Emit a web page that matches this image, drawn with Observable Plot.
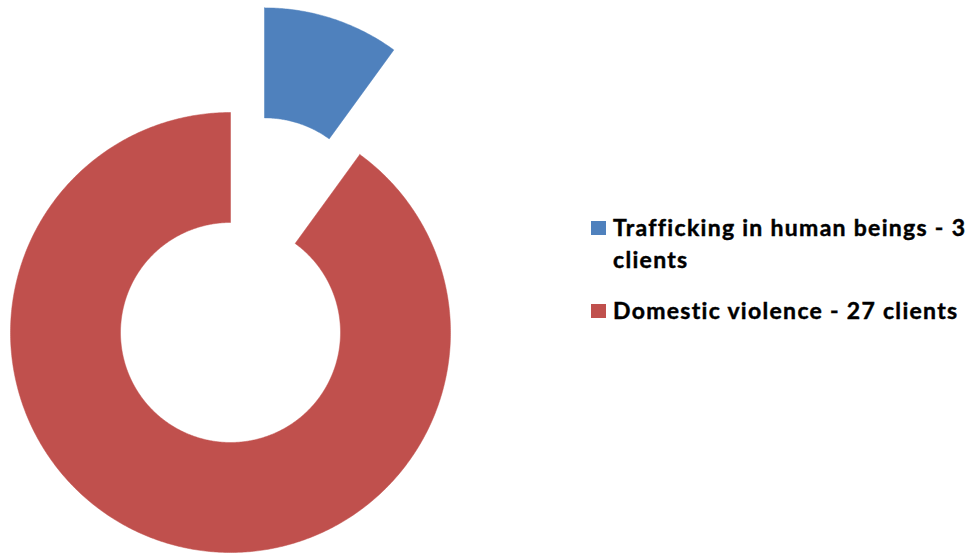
<!DOCTYPE html>
<html>
<head>
<meta charset="utf-8">
<script src="https://cdn.jsdelivr.net/npm/d3@7"></script>
<script src="https://cdn.jsdelivr.net/npm/@observablehq/plot@0.6"></script>
<style>
  html, body { margin: 0; padding: 0; background: #fff; }
  #wrap { position: relative; width: 975px; height: 553px; overflow: hidden; }
  #chart svg { display: block; }
  #legend { position: absolute; left: 591px; top: 210.5px; width: 384px;
            font-family: Lato, "Open Sans", sans-serif; font-weight: bold; font-size: 23px;
            letter-spacing: 1.3px; -webkit-text-stroke: 0.45px #000;
            line-height: 32.6px; color: #000; }
  .item { position: relative; padding-left: 22px; }
  .item + .item { margin-top: 18px; }
  .sw { position: absolute; left: 0; top: 10.3px; width: 14.5px; height: 14.5px; }
</style>
</head>
<body>
<div id="wrap">
  <div id="chart"></div>
  <div id="legend"></div>
</div>
<script>
// ---- data ----
const categories = ["Trafficking in human beings", "Domestic violence"];
const values = [3, 27];
const legendLabels = ["Trafficking in human beings - 3 clients", "Domestic violence - 27 clients"];
const colors = ["#4F81BD", "#C0504D"];
const explode = [0.5, 0];   // fraction of outer radius
const innerRatio = 0.5;

// ---- build slice outlines (unit circle, y up, angle clockwise from top) ----
const pie = d3.pie().sort(null).startAngle(0).endAngle(2 * Math.PI)(values);
const slices = pie.map((p, i) => {
  const mid = (p.startAngle + p.endAngle) / 2;
  const ox = explode[i] * Math.sin(mid), oy = explode[i] * Math.cos(mid);
  const n = Math.max(8, Math.ceil((p.endAngle - p.startAngle) / (Math.PI / 180)) * 2);
  const pts = [];
  for (let k = 0; k <= n; k++) {
    const a = p.startAngle + (p.endAngle - p.startAngle) * k / n;
    pts.push({category: categories[i], x: ox + Math.sin(a), y: oy + Math.cos(a)});
  }
  for (let k = n; k >= 0; k--) {
    const a = p.startAngle + (p.endAngle - p.startAngle) * k / n;
    pts.push({category: categories[i], x: ox + innerRatio * Math.sin(a), y: oy + innerRatio * Math.cos(a)});
  }
  pts.push(pts[0]);
  return {pts, color: colors[i]};
});

const chart = Plot.plot({
  width: 975,
  height: 553,
  margin: 0,
  x: {domain: [-1, 1], range: [10, 450], axis: null},
  y: {domain: [-1, 1], range: [552, 112], axis: null},
  marks: slices.map(s => Plot.line(s.pts, {x: "x", y: "y", fill: s.color, stroke: s.color, strokeWidth: 0.5, curve: "linear"}))
});
document.getElementById("chart").appendChild(chart);

// ---- legend ----
const legend = document.getElementById("legend");
legendLabels.forEach((t, i) => {
  const item = document.createElement("div");
  item.className = "item";
  const sw = document.createElement("span");
  sw.className = "sw";
  sw.style.background = colors[i];
  item.appendChild(sw);
  item.appendChild(document.createTextNode(t));
  legend.appendChild(item);
});
</script>
</body>
</html>
